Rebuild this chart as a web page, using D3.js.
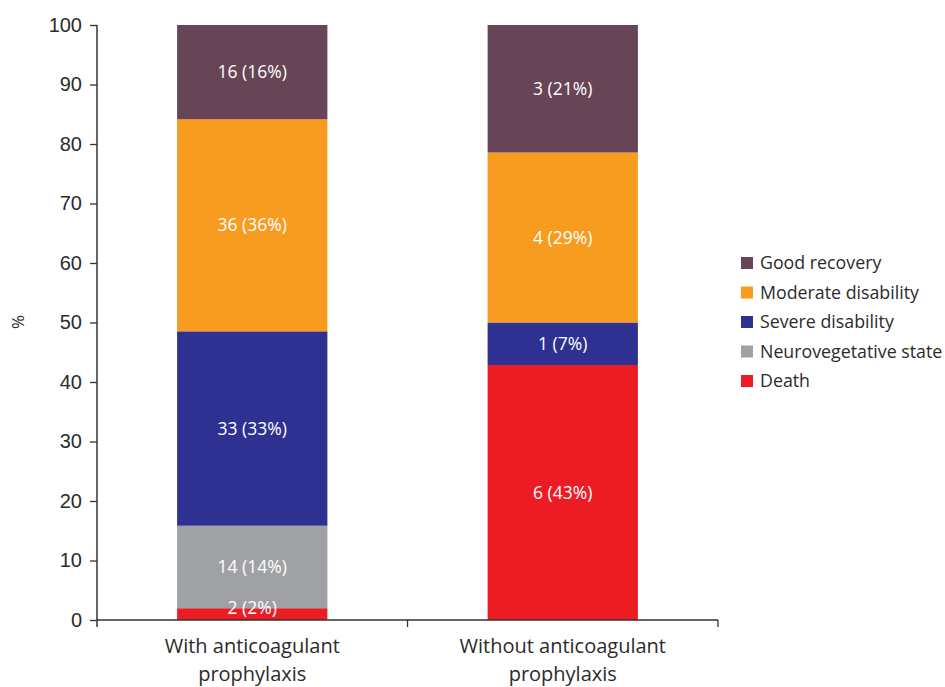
<!DOCTYPE html>
<html>
<head>
<meta charset="utf-8">
<script src="https://cdnjs.cloudflare.com/ajax/libs/d3/7.8.5/d3.min.js"></script>
<style>
body{ margin:0; background:#fff; }
svg text{ fill:#2b2b2b; }
.ytick text{ font-family:"Liberation Sans", Arial, sans-serif; font-size:20px; }
.xtick text{ font-family:"Open Sans", sans-serif; font-size:20px; }
.seglabel{ font-family:"Open Sans", sans-serif; font-size:17.5px; fill:#fff !important; }
.legend text{ font-family:"Open Sans", sans-serif; font-size:17.8px; }
</style>
</head>
<body>
<svg></svg>
<script>
var width = 945,
    height = 687;

// data
var groups = ["With anticoagulant prophylaxis", "Without anticoagulant prophylaxis"];
var outcomes = ["Death", "Neurovegetative state", "Severe disability", "Moderate disability", "Good recovery"];
var withCounts = [2, 14, 33, 36, 16];
var withoutCounts = [6, 0, 1, 4, 3];
var withPct = ["2%", "14%", "33%", "36%", "16%"];
var withoutPct = ["43%", "0%", "7%", "29%", "21%"];
var yTicks = [0, 10, 20, 30, 40, 50, 60, 70, 80, 90, 100];
var colors = ["#ed1c24", "#a0a1a5", "#2e3192", "#f79c1f", "#674556"];

var svg = d3.select("svg")
    .attr("width", width)
    .attr("height", height);

var x = d3.scaleBand()
    .domain(groups)
    .range([97, 718])
    .paddingInner(0.516)
    .paddingOuter(0.258);

var y = d3.scaleLinear()
    .domain([0, 100])
    .range([620, 25]);

// build stacked segments as percent of each group total
var rows = [withCounts, withoutCounts];
var pcts = [withPct, withoutPct];
var segs = [];
rows.forEach(function(r, gi) {
	var total = d3.sum(r);
	var acc = 0;
	r.forEach(function(v, oi) {
		if (v > 0) {
			segs.push({
				group: groups[gi], outcome: oi,
				y0: acc, y1: acc + v / total * 100,
				label: v + " (" + pcts[gi][oi] + ")"
			});
		}
		acc += v / total * 100;
	});
});

svg.selectAll("rect.seg")
	.data(segs)
	.enter().append("rect")
	.attr("class", "seg")
	.attr("x", function(d) { return x(d.group); })
	.attr("width", x.bandwidth())
	.attr("y", function(d) { return y(d.y1); })
	.attr("height", function(d) { return y(d.y0) - y(d.y1); })
	.style("fill", function(d) { return colors[d.outcome]; });

svg.selectAll("text.seglabel")
	.data(segs)
	.enter().append("text")
	.attr("class", "seglabel")
	.attr("x", function(d) { return x(d.group) + x.bandwidth() / 2; })
	.attr("y", function(d) {
		var c = (y(d.y0) + y(d.y1)) / 2;
		return Math.min(c, y(d.y0) - 12);
	})
	.attr("dy", "0.35em")
	.attr("text-anchor", "middle")
	.text(function(d) { return d.label; });

// y axis
var yAxis = svg.append("g")
	.attr("class", "ytick")
	.attr("transform", "translate(97,0)")
	.call(d3.axisLeft(y).tickValues(yTicks).tickSize(7).tickPadding(8));
yAxis.select(".domain").attr("d", "M0,25V627").style("stroke", "#333").style("stroke-width", 1.5);
yAxis.selectAll(".tick line").style("stroke", "#333").style("stroke-width", 1.3);

// x axis: ticks at band boundaries
var xg = svg.append("g")
	.attr("class", "xtick")
	.attr("transform", "translate(0,620)");
xg.append("line")
	.attr("x1", 97).attr("x2", 718)
	.style("stroke", "#333").style("stroke-width", 1.5);
var bounds = [x.range()[0], (x(groups[0]) + x(groups[1]) + x.bandwidth()) / 2, x.range()[1]];
xg.selectAll("line.bt")
	.data(bounds.slice(1))
	.enter().append("line")
	.attr("class", "bt")
	.attr("x1", function(d) { return d; })
	.attr("x2", function(d) { return d; })
	.attr("y1", 0).attr("y2", 7)
	.style("stroke", "#333").style("stroke-width", 1.3);

groups.forEach(function(g) {
	var words = g.split(" ");
	var t = xg.append("text")
		.attr("x", x(g) + x.bandwidth() / 2)
		.attr("y", 33)
		.attr("text-anchor", "middle");
	t.append("tspan").attr("x", x(g) + x.bandwidth() / 2).text(words[0] + " " + words[1]);
	t.append("tspan").attr("x", x(g) + x.bandwidth() / 2).attr("dy", 28).text(words[2]);
});

// y label
svg.append("text")
	.attr("transform", "translate(24,322) rotate(-90)")
	.attr("text-anchor", "middle")
	.style("font-family", "Open Sans, sans-serif")
	.style("font-size", "17px")
	.text("%");

// legend (top entry is last stack layer)
var legendOrder = outcomes.map(function(d, i) { return i; }).reverse();
var legend = svg.append("g").attr("class", "legend");
var items = legend.selectAll("g")
	.data(legendOrder)
	.enter().append("g")
	.attr("transform", function(d, i) { return "translate(741," + (263 + i * 29.5) + ")"; });
items.append("rect")
	.attr("x", 0).attr("y", -6)
	.attr("width", 12).attr("height", 12)
	.style("fill", function(d) { return colors[d]; });
items.append("text")
	.attr("x", 19)
	.attr("dy", "0.35em")
	.text(function(d) { return outcomes[d]; });
</script>
</body>
</html>
